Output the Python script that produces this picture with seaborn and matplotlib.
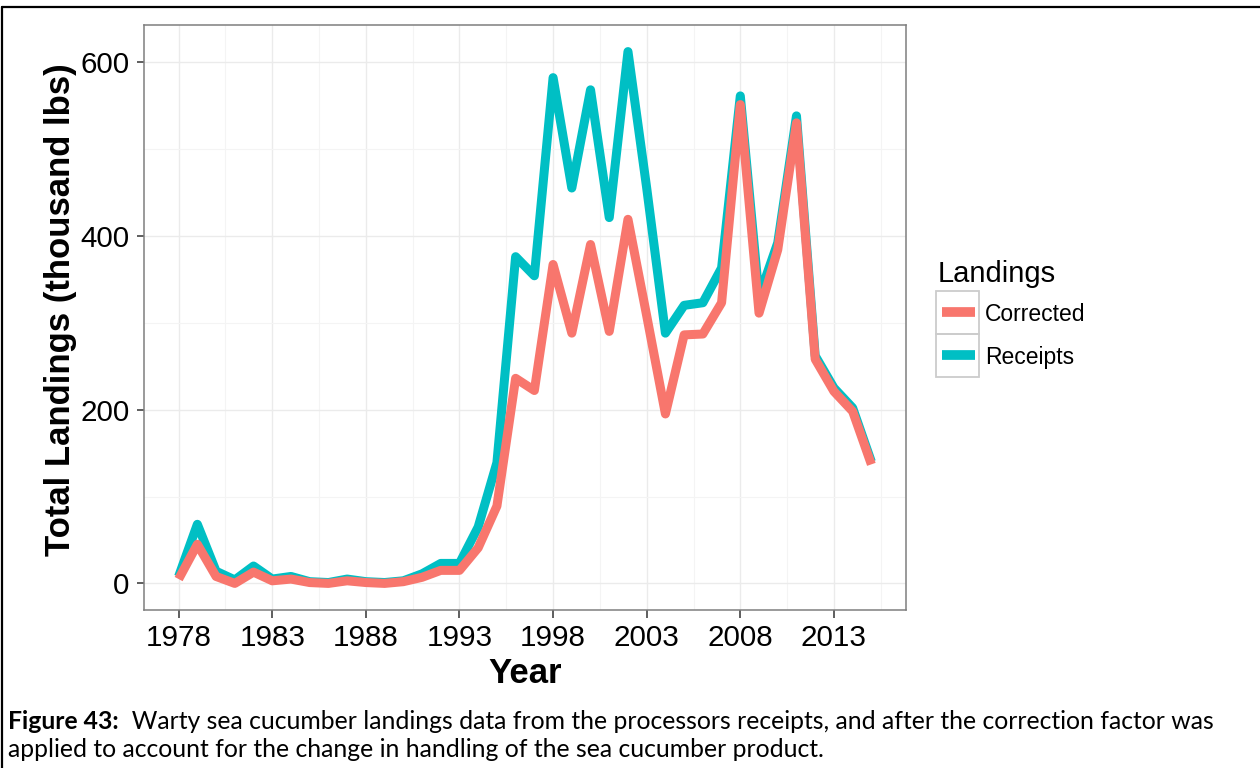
import matplotlib
matplotlib.use("Agg")
from matplotlib import pyplot as plt
from matplotlib.lines import Line2D
from matplotlib.patches import Rectangle
import matplotlib.ticker as plticker
import seaborn as sns
import pandas as pd

# Warty sea cucumber landings (thousand lbs)
years = list(range(1978, 2016))
receipts = [8, 68, 14, 4, 20, 5, 8, 2, 1, 5, 2, 1, 3, 11, 23, 23, 65, 139, 376, 354,
            582, 455, 568, 421, 612, 455, 288, 320, 323, 363, 561, 330, 392, 538, 262, 225, 202, 140]
corrected = [5, 45, 8, 0, 13, 3, 5, 1, 0, 3, 1, 0, 2, 7, 15, 15, 41, 89, 236, 222,
             367, 288, 390, 290, 419, 308, 195, 286, 287, 323, 551, 311, 384, 530, 258, 221, 198, 137]
series_names = ["Corrected", "Receipts"]
series_colors = ["#F8766D", "#00BFC4"]
x_ticks = [1978, 1983, 1988, 1993, 1998, 2003, 2008, 2013]
x_minor = [1980.5, 1985.5, 1990.5, 1995.5, 2000.5, 2005.5, 2010.5, 2015.5]
y_ticks = [0, 200, 400, 600]
y_minor = [100, 300, 500]
caption_bold = "Figure 43:"
caption_1 = "  Warty sea cucumber landings data from the processors receipts, and after the correction factor was"
caption_2 = "applied to account for the change in handling of the sea cucumber product."

df = pd.DataFrame({
    "Year": years + years,
    "Landings": [series_names[0]] * len(years) + [series_names[1]] * len(years),
    "Total": corrected + receipts,
})

sns.set_style("white")
plt.rcParams['font.family'] = ['Liberation Sans', 'DejaVu Sans']
plt.rcParams['text.color'] = 'black'
plt.rcParams['axes.labelcolor'] = 'black'

W, H = 1260, 768
fig = plt.figure(figsize=(W / 100, H / 100), dpi=100)
ax = fig.add_axes([144 / W, 1 - 610 / H, (906 - 144) / W, (610 - 25) / H])

sns.lineplot(data=df, x="Year", y="Total", hue="Landings", hue_order=series_names,
             palette=series_colors, linewidth=6.5, errorbar=None, legend=False,
             solid_capstyle="butt", solid_joinstyle="round", ax=ax)
# corrected line sits on top of receipts
ax.lines[0].set_zorder(3)
ax.lines[1].set_zorder(2)

ax.set_xlim(1976.15, 2016.85)
ax.set_ylim(-30.6, 642.6)
ax.xaxis.set_major_locator(plticker.FixedLocator(x_ticks))
ax.xaxis.set_minor_locator(plticker.FixedLocator(x_minor))
ax.yaxis.set_major_locator(plticker.FixedLocator(y_ticks))
ax.yaxis.set_minor_locator(plticker.FixedLocator(y_minor))
ax.grid(True, which="major", color="#EBEBEB", linewidth=1.0, zorder=0)
ax.grid(True, which="minor", color="#F4F4F4", linewidth=0.8, zorder=0)
ax.set_axisbelow(True)
for s in ax.spines.values():
    s.set_color("#7F7F7F")
    s.set_linewidth(1.1)
    s.set_visible(True)
ax.tick_params(which="major", direction="out", length=5.4, width=1.1, color="#333333",
               labelsize=21.3, labelcolor="black", pad=5, bottom=True, left=True)
ax.tick_params(which="minor", length=0)

ax.set_xlabel("Year", fontsize=25, fontweight="bold")
ax.set_ylabel("Total Landings (thousand lbs)", fontsize=25, fontweight="bold")
ax.xaxis.label.set_verticalalignment("baseline")
ax.xaxis.set_label_coords(0.5, (610 - 683) / 585)
ax.yaxis.set_label_coords(-0.088, (610 - 309.5) / 585)

# legend drawn by hand, ggplot style keys with grey boxes
fig.text(938 / W, 1 - 281.7 / H, "Landings", fontsize=21, va="baseline", ha="left")
key = 43
key_top = 290.7
for i, (name, col) in enumerate(zip(series_names, series_colors)):
    y0 = key_top + i * key
    cy = y0 + key / 2
    fig.add_artist(Rectangle((936 / W, 1 - (y0 + key) / H), key / W, key / H,
                             transform=fig.transFigure, fill=False,
                             edgecolor="#CCCCCC", linewidth=1.3))
    fig.add_artist(Line2D([942 / W, 975 / W], [1 - cy / H, 1 - cy / H], color=col,
                          linewidth=7, solid_capstyle="butt", transform=fig.transFigure))
    fig.text(985 / W, 1 - (cy + 9) / H, name, fontsize=16.5, va="baseline", ha="left")

# caption
cap_font = ['Lato', 'DejaVu Sans']
inv = fig.transFigure.inverted()
t = fig.text(8 / W, 1 - 729 / H, caption_bold, fontsize=17.8, fontweight="bold",
             family=cap_font, va="baseline", ha="left")
fig.canvas.draw()
bb = t.get_window_extent(fig.canvas.get_renderer())
fig.text(inv.transform((bb.x1, 0))[0], 1 - 729 / H, caption_1, fontsize=17.8,
         family=cap_font, va="baseline", ha="left")
fig.text(8 / W, 1 - 757 / H, caption_2, fontsize=17.8, family=cap_font,
         va="baseline", ha="left")

# page frame (left and top edges)
fig.add_artist(Line2D([2 / W, 2 / W], [0, 1 - 7 / H], color="black", linewidth=1.6,
                      transform=fig.transFigure))
fig.add_artist(Line2D([2 / W, 1], [1 - 7 / H, 1 - 7 / H], color="black", linewidth=1.6,
                      transform=fig.transFigure))

fig.savefig("out.png", dpi=100)
